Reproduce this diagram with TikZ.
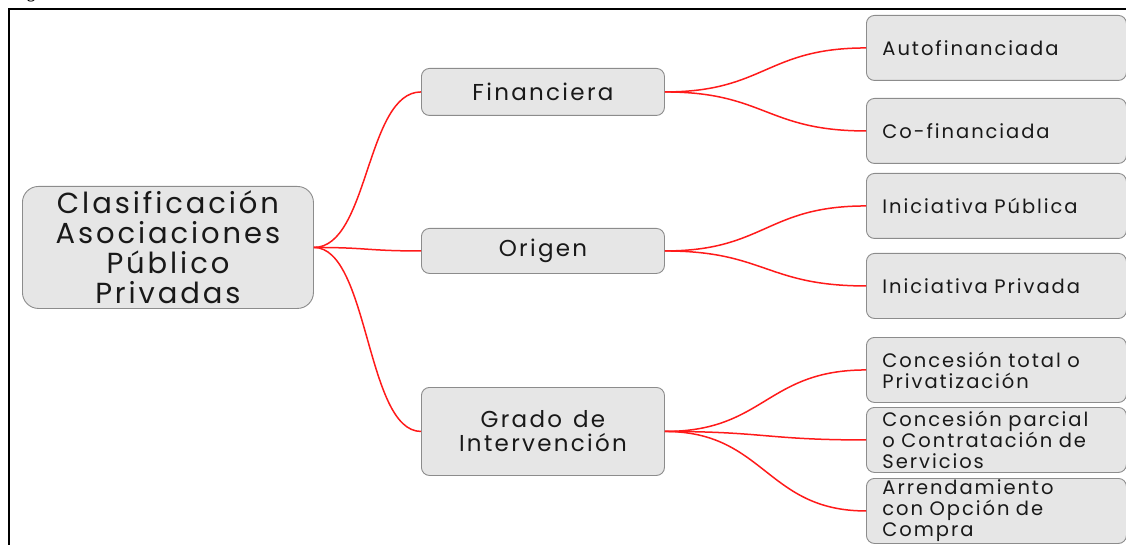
\documentclass[tikz,border=0pt]{standalone}
\usepackage{fontspec}
\setmainfont{Poppins}[LetterSpace=10, WordSpace=1.3]
\newfontfamily\captionfont{Liberation Serif}
\definecolor{boxfill}{HTML}{E6E6E6}
\definecolor{boxline}{HTML}{8C8C8C}
\definecolor{link}{HTML}{FF1A1A}
\begin{document}
\begin{tikzpicture}[x=1pt,y=-1pt,
  box/.style={draw=boxline, fill=boxfill, rounded corners=8pt, line width=0.9pt,
              inner sep=0pt, anchor=north west, text=black!90},
  rootbox/.style={box, rounded corners=16pt, minimum width=291pt, minimum height=122pt,
              align=center, font=\fontsize{29}{30}\selectfont},
  midbox/.style={box, minimum width=243pt, align=center, font=\fontsize{23}{24}\selectfont},
  leafbox/.style={box, minimum width=258pt, minimum height=65pt, align=left,
              text width=228pt, inner xsep=16pt, font=\fontsize{19.5}{21}\selectfont},
  link/.style={draw=link, line width=1.5pt}
]
\useasboundingbox (0,0) rectangle (1126,545);

% caption fragment and outer frame
\node[anchor=base west, inner sep=0pt, font=\captionfont\bfseries\fontsize{16}{18}\selectfont] (cap) at (27,-1) {g};
\draw[line width=2.2pt] (9,560) -- (9,9) -- (1140,9);

% root and first level
\node[rootbox] (root) at (22,186) {Clasificación\\Asociaciones\\Público\\Privadas};
\node[midbox, minimum height=47pt] (fin) at (421,68) {Financiera};
\node[midbox, minimum height=45pt] (ori) at (421,228) {Origen};
\node[midbox, minimum height=88pt] (gra) at (421,387) {Grado de\\Intervención};

% second level
\node[leafbox] (auto) at (866,15) {Autofinanciada};
\node[leafbox] (cofi) at (866,98) {Co-financiada};
\node[leafbox] (ipub) at (866,173) {Iniciativa Pública};
\node[leafbox] (ipri) at (866,253) {Iniciativa Privada};
\node[leafbox] (ctot) at (866,337) {Concesión total o\\Privatización};
\node[leafbox] (cpar) at (866,407) {Concesión parcial\\o Contratación de\\Servicios};
\node[leafbox] (arre) at (866,478) {Arrendamiento\\con Opción de\\Compra};

% connectors
\foreach \t in {fin,ori,gra}
  \draw[link] (root.east) .. controls +(55,0) and +(-55,0) .. (\t.west);
\foreach \t in {auto,cofi}
  \draw[link] (fin.east) .. controls +(100,0) and +(-100,0) .. (\t.west);
\foreach \t in {ipub,ipri}
  \draw[link] (ori.east) .. controls +(100,0) and +(-100,0) .. (\t.west);
\foreach \t in {ctot,cpar,arre}
  \draw[link] (gra.east) .. controls +(100,0) and +(-100,0) .. (\t.west);
\end{tikzpicture}
\end{document}
